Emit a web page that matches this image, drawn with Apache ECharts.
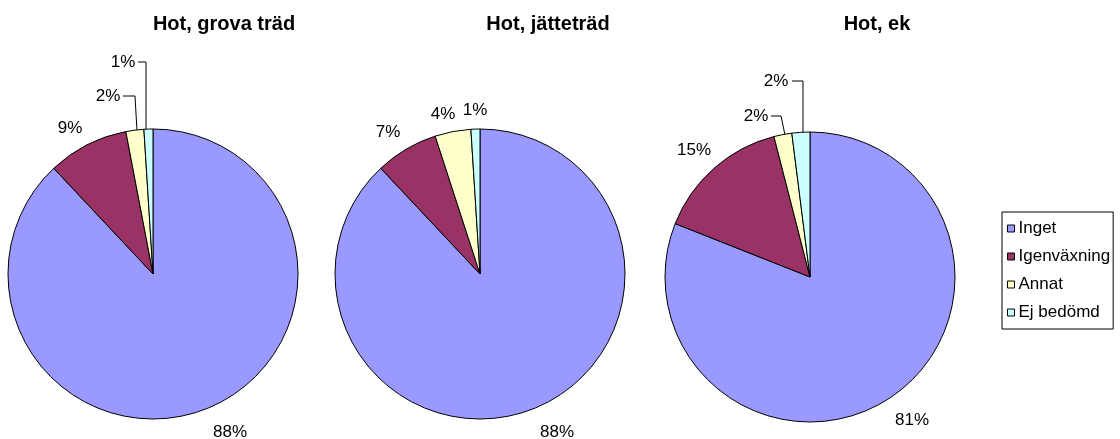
<!DOCTYPE html>
<html>
<head>
<meta charset="utf-8">
<script src="https://cdn.jsdelivr.net/npm/echarts@6/dist/echarts.min.js"></script>
<style>
  html, body { margin: 0; padding: 0; background: #fff; }
  #chart { width: 1120px; height: 439px; }
</style>
</head>
<body>
<div id="chart"></div>
<script>
// kategorier och värden (procent) per diagram
const categories = ['Inget', 'Igenväxning', 'Annat', 'Ej bedömd'];
const titles = ['Hot, grova träd', 'Hot, jätteträd', 'Hot, ek'];
const grovaTrad = [88, 9, 2, 1];
const jattetrad = [88, 7, 4, 1];
const ek = [81, 15, 2, 2];

const colors = ['#9999FF', '#993366', '#FFFFCC', '#CCFFFF'];
const font = 'Liberation Sans, Arial, sans-serif';

// placering av pajer
const pies = [
  { center: [153, 274], title: 219 },
  { center: [480, 274], title: 543 },
  { center: [810, 277], title: 872 }
];

// etikettplacering (textens mitt) och ev. hänvisningslinjer, Excel-stil
const labelPos = [
  [[230, 432], [70, 128], [108, 96], [123, 62]],
  [[557, 432], [388, 132], [443, 114], [475, 110]],
  [[912, 420], [694, 150], [756, 116], [776, 81]]
];
const leaders = {
  '0-3': [[146, 131], [146, 62], [138, 62]],
  '0-2': [[137, 131], [135, 96], [123, 96]],
  '2-3': [[803, 133], [803, 81], [792, 81]],
  '2-2': [[785, 135], [781, 116], [771, 116]]
};

const allData = [grovaTrad, jattetrad, ek];

const chart = echarts.init(document.getElementById('chart'));

const series = allData.map((vals, s) => ({
  type: 'pie',
  name: titles[s],
  center: pies[s].center,
  radius: 145,
  startAngle: 90,
  clockwise: true,
  animation: false,
  silent: true,
  avoidLabelOverlap: false,
  itemStyle: { borderColor: '#000', borderWidth: 1 },
  label: {
    show: true,
    position: 'outside',
    formatter: '{c}%',
    color: '#000',
    fontFamily: font,
    fontSize: 17
  },
  labelLine: { show: true, length: 0, length2: 0, smooth: false, lineStyle: { color: '#000', width: 1 } },
  labelLayout: function (p) {
    const pos = labelPos[s][p.dataIndex];
    const out = { x: pos[0], y: pos[1], align: 'center', verticalAlign: 'middle', hideOverlap: false };
    const key = s + '-' + p.dataIndex;
    if (leaders[key]) out.labelLinePoints = leaders[key];
    return out;
  },
  data: vals.map((v, i) => ({
    name: categories[i],
    value: v,
    itemStyle: { color: colors[i] },
    labelLine: { show: !!leaders[s + '-' + i] }
  }))
}));

chart.setOption({
  backgroundColor: '#fff',
  title: titles.map((t, s) => ({
    text: t,
    left: pies[s].title,
    top: 9,
    textAlign: 'center',
    textStyle: { fontFamily: font, fontSize: 20, fontWeight: 'bold', color: '#000' }
  })),
  legend: {
    orient: 'vertical',
    left: 1002,
    top: 212,
    padding: [8, 3, 8, 5],
    backgroundColor: '#fff',
    borderColor: '#000',
    borderWidth: 1,
    itemWidth: 7,
    itemHeight: 7,
    itemGap: 11,
    icon: 'rect',
    selectedMode: false,
    data: categories,
    itemStyle: { borderColor: '#000', borderWidth: 1 },
    textStyle: { fontFamily: font, fontSize: 17, color: '#000', padding: [0, 0, 0, -1] }
  },
  series: series
});
</script>
</body>
</html>
